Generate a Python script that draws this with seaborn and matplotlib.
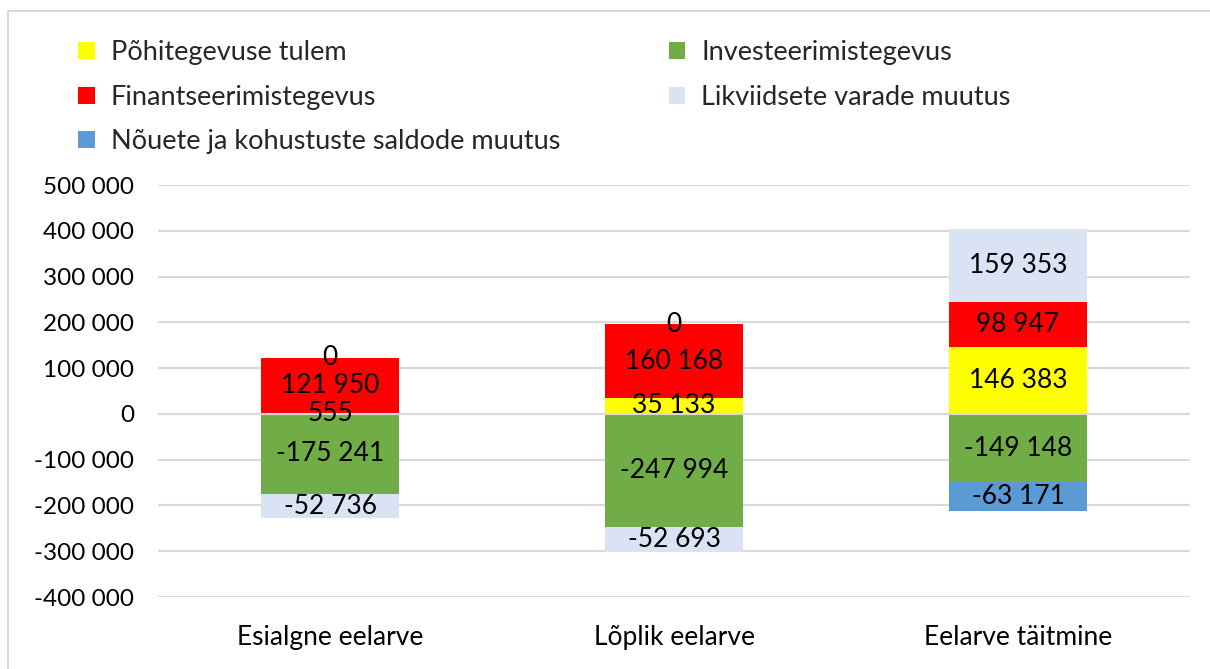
import numpy as np
import pandas as pd
import seaborn as sns
import matplotlib.pyplot as plt
from matplotlib.patches import Rectangle, Patch
from matplotlib.ticker import FuncFormatter

sns.set_theme(style='white')
plt.rcParams['font.family'] = ['Lato', 'DejaVu Sans']

# andmed
kategooriad = ['Esialgne eelarve', 'Lõplik eelarve', 'Eelarve täitmine']
seeriad = ['Põhitegevuse tulem', 'Investeerimistegevus', 'Finantseerimistegevus',
           'Likviidsete varade muutus', 'Nõuete ja kohustuste saldode muutus']
pohitegevus = [555, 35133, 146383]
investeerimine = [-175241, -247994, -149148]
finantseerimine = [121950, 160168, 98947]
likviidsed = [-52736, -52693, 159353]
nouded = [0, 0, -63171]
varvid = ['#FFFF00', '#70AD47', '#FF0000', '#DAE3F3', '#5B9BD5']

vaartused = [pohitegevus, investeerimine, finantseerimine, likviidsed, nouded]

fig = plt.figure(figsize=(12.1, 6.69), dpi=100)
fig.patches.append(Rectangle((8 / 1210, -0.1), 1.2, 1.1 - 11 / 669,
                             transform=fig.transFigure, fill=False,
                             edgecolor='#d9d9d9', linewidth=1.5))
ax = fig.add_axes([158 / 1210, 1 - 597 / 669, 1032 / 1210, 412 / 669])

fmt = lambda v: f'{v:,.0f}'.replace(',', ' ')

pos = np.zeros(3)
neg = np.zeros(3)
for nimi, vals, col in zip(seeriad, vaartused, varvid):
    vals = np.array(vals, dtype=float)
    bottom = np.where(vals >= 0, pos, neg)
    df = pd.DataFrame({'kat': kategooriad, 'v': vals})
    sns.barplot(data=df, x='kat', y='v', bottom=bottom, color=col, width=0.4,
                saturation=1, ax=ax, zorder=2, linewidth=0)
    for i, v in enumerate(vals):
        ax.text(i, bottom[i] + v / 2, fmt(v), ha='center', va='center',
                fontsize=19, color='black', zorder=4)
    pos = np.where(vals >= 0, pos + vals, pos)
    neg = np.where(vals < 0, neg + vals, neg)

ax.set_ylim(-400000, 500000)
ax.set_xlim(-0.5, 2.5)
ax.set_yticks(np.arange(-400000, 500001, 100000))
ax.yaxis.set_major_formatter(FuncFormatter(lambda v, p: fmt(v)))
ax.grid(axis='y', color='#d9d9d9', linewidth=1.5, zorder=0)
ax.set_axisbelow(True)
ax.axhline(0, color='#d9d9d9', linewidth=1.5, zorder=3)
for s in ax.spines.values():
    s.set_visible(False)
ax.tick_params(axis='both', length=0, colors='black')
ax.tick_params(axis='y', pad=17, labelsize=17.5)
ax.tick_params(axis='x', pad=20, labelsize=19)
ax.set_xlabel('')
ax.set_ylabel('')

# legend, rida-realt järjestus
jarjekord = [0, 2, 4, 1, 3]
kasitsejad = [Patch(facecolor=varvid[i], edgecolor='none') for i in jarjekord]
fig.legend(kasitsejad, [seeriad[i] for i in jarjekord], ncol=2,
           loc='upper left', bbox_to_anchor=(54 / 1210, 1 - 16 / 669),
           frameon=False, fontsize=19.5, handlelength=0.6, handleheight=0.6,
           handletextpad=0.6, columnspacing=4.0, labelspacing=0.72)

fig.savefig('out.png', dpi=100)
